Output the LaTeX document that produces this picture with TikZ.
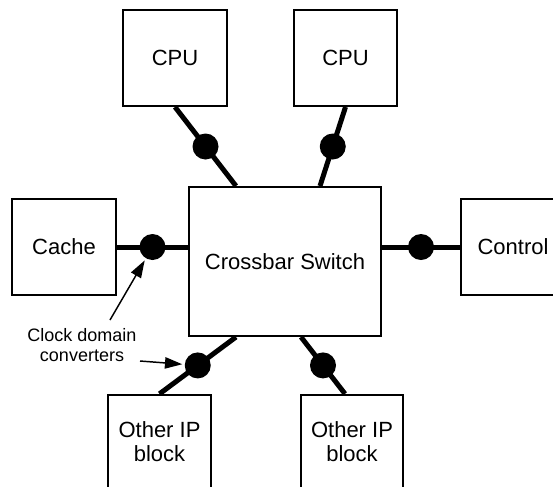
\documentclass[tikz,border=0pt]{standalone}
\usepackage{fontspec}
\setmainfont{Liberation Sans}
\usetikzlibrary{arrows.meta}
\begin{document}
\begin{tikzpicture}[x=0.75pt,y=-0.75pt,
  box/.style={draw,line width=1.5pt,fill=white,inner sep=0pt,font=\fontsize{16.5}{17.5}\selectfont,align=center},
  conn/.style={line width=3.75pt},
  dot/.style={circle,fill=black,draw=none,minimum size=19.5pt,inner sep=0pt},
  pointer/.style={line width=1.1pt,-{Triangle[length=13pt,width=8.5pt]}}]
\useasboundingbox (0,0) rectangle (553,486);
\clip (0,0) rectangle (553,486);
% boxes
\node[box,minimum width=78pt,minimum height=72pt] (cpu1) at (175,58) {CPU};
\node[box,minimum width=77.25pt,minimum height=72pt] (cpu2) at (345.5,58) {CPU};
\node[box,minimum width=78pt,minimum height=72pt] (cache) at (64,247) {Cache};
\node[box,minimum width=78pt,minimum height=72pt] (ctrl) at (513,247) {Control};
\node[box,minimum width=144pt,minimum height=111.75pt] (xbar) at (285,261.5) {Crossbar Switch};
\node[box,minimum width=77.25pt,minimum height=70pt] (ip1) at (159.5,441.5) {Other IP\\block};
\node[box,minimum width=76.5pt,minimum height=70pt] (ip2) at (352,441.5) {Other IP\\block};
% connectors with clock domain converters
\draw[conn] (cpu1.south) -- node[dot] (d1) {} ([xshift=36pt]xbar.north west);
\draw[conn] (cpu2.south) -- node[dot] (d2) {} ([xshift=-46.5pt]xbar.north east);
\draw[conn] (cache.east) -- node[dot] (d3) {} (cache.east -| xbar.west);
\draw[conn] (ctrl.west -| xbar.east) -- node[dot] (d4) {} (ctrl.west);
\draw[conn] ([xshift=36pt]xbar.south west) -- node[dot] (d5) {} (ip1.north);
\draw[conn] ([xshift=84.75pt]xbar.south west) -- node[dot] (d6) {} ([xshift=-5.25pt]ip2.north);
% label and pointers
\node[inner sep=0pt,align=center,font=\fontsize{13.5}{15}\selectfont] (lbl) at (82,345) {Clock domain\\converters};
\coordinate (a1) at (110,320);
\coordinate (a2) at (140,361);
\draw[pointer] (a1) -- (d3);
\draw[pointer] (a2) -- (d5);
\end{tikzpicture}
\end{document}
